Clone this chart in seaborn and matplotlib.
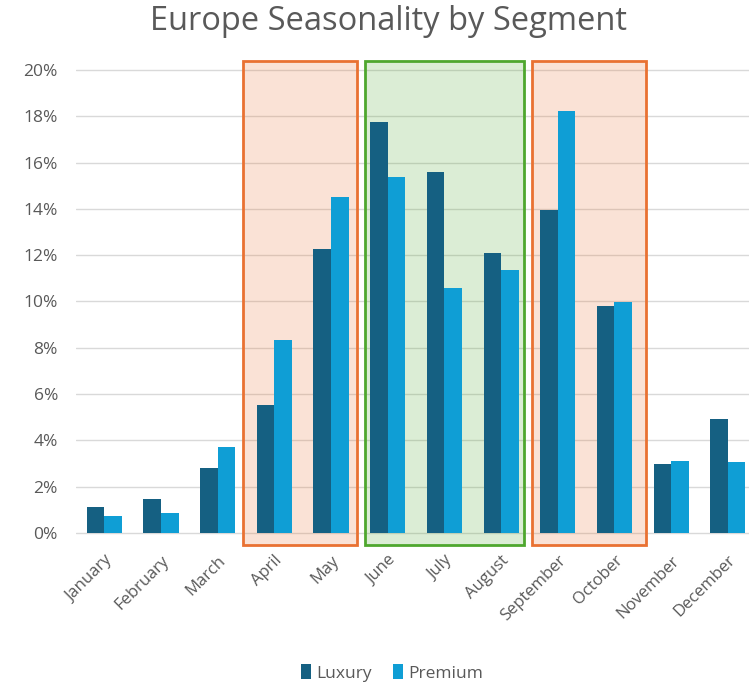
import pandas as pd
import matplotlib.pyplot as plt
import seaborn as sns
from matplotlib.patches import Rectangle
from matplotlib.ticker import PercentFormatter

months = ["January", "February", "March", "April", "May", "June", "July",
          "August", "September", "October", "November", "December"]
luxury = [0.0112, 0.0147, 0.0280, 0.0553, 0.1227, 0.1775, 0.1560, 0.1210,
          0.1395, 0.0980, 0.0298, 0.0492]
premium = [0.0073, 0.0086, 0.0370, 0.0833, 0.1450, 0.1538, 0.1058, 0.1136,
           0.1823, 0.0998, 0.0311, 0.0307]
segments = ["Luxury", "Premium"]
yticks = [0, 0.02, 0.04, 0.06, 0.08, 0.10, 0.12, 0.14, 0.16, 0.18, 0.20]

# highlighted month ranges: (first, last, edge colour, left pad, right pad)
highlights = [("April", "May", "#E97132", 0.56, 0.46),
              ("June", "August", "#4EA72E", 0.40, 0.40),
              ("September", "October", "#E97132", 0.46, 0.56)]

df = pd.DataFrame({
    "Month": months * 2,
    "Share": luxury + premium,
    "Segment": ["Luxury"] * len(months) + ["Premium"] * len(months),
})

sns.set_style("white")
plt.rcParams['font.family'] = ['Open Sans', 'DejaVu Sans']
grey = "#595959"

fig = plt.figure(figsize=(7.49, 6.85), dpi=100)
ax = fig.add_axes([0.1015, 0.2015, 0.908, 0.7168])

sns.barplot(data=df, x="Month", y="Share", hue="Segment", order=months,
            hue_order=segments, palette=["#156082", "#0F9ED5"], width=0.62,
            saturation=1, linewidth=0, ax=ax, zorder=3, legend=True)

for first, last, col, lpad, rpad in highlights:
    lo = months.index(first) - lpad
    hi = months.index(last) + rpad
    ax.add_patch(Rectangle((lo, -0.0052), hi - lo, 0.2092, facecolor=col,
                           alpha=0.2, edgecolor="none", zorder=1))
    ax.add_patch(Rectangle((lo, -0.0052), hi - lo, 0.2092, facecolor="none",
                           edgecolor=col, lw=2, zorder=4, clip_on=False))

ax.set_xlim(-0.5, 11.5)
ax.set_ylim(-0.006, 0.206)
ax.set_yticks(yticks)
ax.yaxis.set_major_formatter(PercentFormatter(1.0, decimals=0))
ax.grid(axis='y', color="#D9D9D9", lw=1, zorder=0)
ax.set_axisbelow(True)
for s in ax.spines.values():
    s.set_visible(False)
ax.set_xlabel("")
ax.set_ylabel("")
ax.tick_params(axis='y', length=0, pad=13, labelsize=12.5, labelcolor=grey)
ax.tick_params(axis='x', length=0, pad=4, labelsize=12, labelcolor=grey)
plt.setp(ax.get_xticklabels(), rotation=45, ha='right', rotation_mode='anchor')

handles, labels = ax.get_legend_handles_labels()
ax.legend_.remove()
fig.legend(handles, labels, loc='center', bbox_to_anchor=(392 / 749, 1 - 673 / 685),
           ncol=2, frameon=False, fontsize=12.5, labelcolor=grey,
           handlelength=0.6, handleheight=0.9, handletextpad=0.3,
           columnspacing=1.2)

fig.text(388 / 749, 1 - 21 / 685, "Europe Seasonality by Segment", ha='center',
         va='center', fontsize=23.5, color=grey)

fig.savefig("out.png", dpi=100)
